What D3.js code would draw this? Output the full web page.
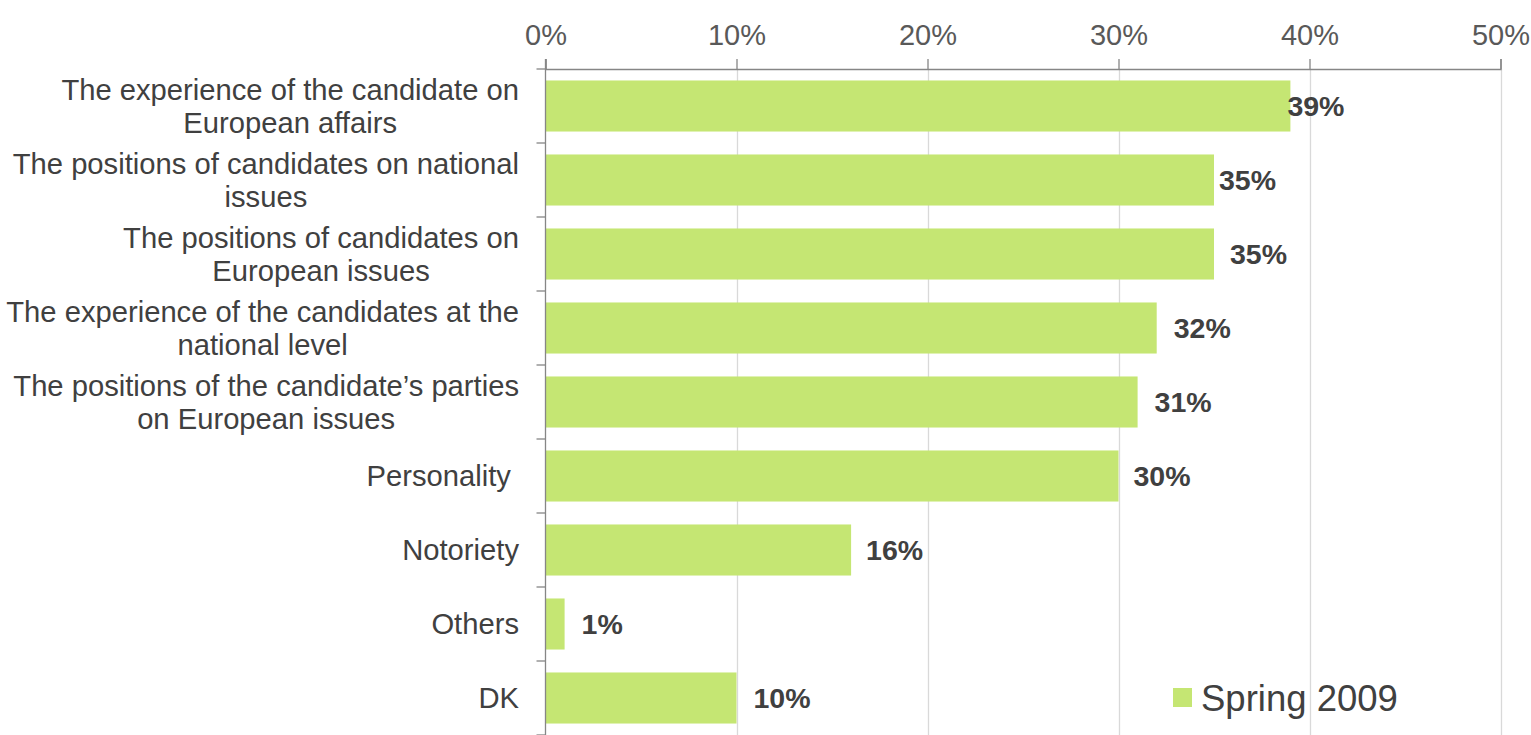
<!DOCTYPE html>
<html>
<head>
<meta charset="utf-8">
<script src="https://cdn.jsdelivr.net/npm/d3@7"></script>
<style>
  html, body { margin: 0; padding: 0; background: #ffffff; }
  svg { display: block; }
  text { font-family: "Liberation Sans", Arial, sans-serif; }
</style>
</head>
<body>
<svg id="chart" width="1531" height="735"></svg>
<script>
// ---- data ----
const categories = [
  ["The experience of the candidate on", "European affairs"],
  ["The positions of candidates on national", "issues"],
  ["The positions of candidates on", "European issues"],
  ["The experience of the candidates at the", "national level"],
  ["The positions of the candidate\u2019s parties", "on European issues"],
  ["Personality "],
  ["Notoriety"],
  ["Others"],
  ["DK"]
];
const values = [39, 35, 35, 32, 31, 30, 16, 1, 10];
const tickValues = [0, 10, 20, 30, 40, 50];
const seriesName = "Spring 2009";

// ---- drawing ----
const svg = d3.select("#chart");
const pL = 545.5, pR = 1500.5, pT = 69, pB = 735;
const barColor = "#C5E673";

const x = d3.scaleLinear().domain([0, 50]).range([pL, pR]);
const y = d3.scaleBand().domain(d3.range(categories.length)).range([pT, pB])
  .paddingInner(0.31).paddingOuter(0.155);
const step = y.step();

// gridlines
svg.append("g").selectAll("line").data(tickValues.filter(d => d > 0)).join("line")
  .attr("x1", d => Math.round(x(d)) + 0.5).attr("x2", d => Math.round(x(d)) + 0.5)
  .attr("y1", pT).attr("y2", pB)
  .attr("stroke", "#D9D9D9").attr("stroke-width", 1.3);

// top axis
const xAxis = d3.axisTop(x).tickValues(tickValues).tickFormat(d => d + "%").tickSize(10).tickPadding(14);
const gx = svg.append("g").attr("transform", `translate(0,${pT})`).call(xAxis);
gx.select(".domain").attr("stroke", "#868686").attr("stroke-width", 1.3);
gx.selectAll(".tick line").attr("stroke", "#868686").attr("stroke-width", 1.3);
gx.selectAll(".tick text").attr("fill", "#595959").attr("font-size", 29)
  .attr("font-family", "'Liberation Sans', Arial, sans-serif");

// bars
svg.append("g").selectAll("rect").data(values).join("rect")
  .attr("x", x(0)).attr("y", (d, i) => y(i))
  .attr("width", d => x(d) - x(0)).attr("height", y.bandwidth())
  .attr("fill", barColor);

// left axis
svg.append("line").attr("x1", pL).attr("x2", pL).attr("y1", pT - 10).attr("y2", pB)
  .attr("stroke", "#868686").attr("stroke-width", 1.3);
const sepTicks = d3.range(categories.length + 1).map(i => pT + i * step);
svg.append("g").selectAll("line").data(sepTicks).join("line")
  .attr("x1", pL - 9).attr("x2", pL).attr("y1", d => d).attr("y2", d => d)
  .attr("stroke", "#868686").attr("stroke-width", 1.3);

// category labels: block right-aligned at labelRight, lines centred within block
const lineH = 33;
const labelRight = 519;
const catG = svg.append("g");
categories.forEach((lines, i) => {
  const cy = y(i) + y.bandwidth() / 2;
  const t = catG.append("text")
    .attr("text-anchor", "middle").attr("fill", "#404040").attr("font-size", 29.2)
    .attr("xml:space", "preserve").style("white-space", "pre");
  const spans = lines.map((ln, j) => t.append("tspan")
    .attr("y", cy + (j - (lines.length - 1) / 2) * lineH)
    .attr("dy", "0.35em").text(ln));
  const maxW = d3.max(spans, s => s.node().getComputedTextLength());
  spans.forEach(s => s.attr("x", labelRight - maxW / 2));
});

// value labels
const labelNudge = [-3, 5, 16, 17, 17, 15, 15, 17, 17];
svg.append("g").selectAll("text").data(values).join("text")
  .attr("x", (d, i) => x(d) + labelNudge[i])
  .attr("y", (d, i) => y(i) + y.bandwidth() / 2)
  .attr("dy", "0.36em")
  .attr("fill", "#404040").attr("font-size", 28.5).attr("font-weight", "bold")
  .text(d => d + "%");

// legend
const lg = svg.append("g");
lg.append("rect").attr("x", 1173).attr("y", 688).attr("width", 19).attr("height", 19).attr("fill", barColor);
lg.append("text").attr("x", 1201).attr("y", 697.5).attr("dy", "0.36em")
  .attr("fill", "#404040").attr("font-size", 36.5).text(seriesName);
</script>
</body>
</html>
